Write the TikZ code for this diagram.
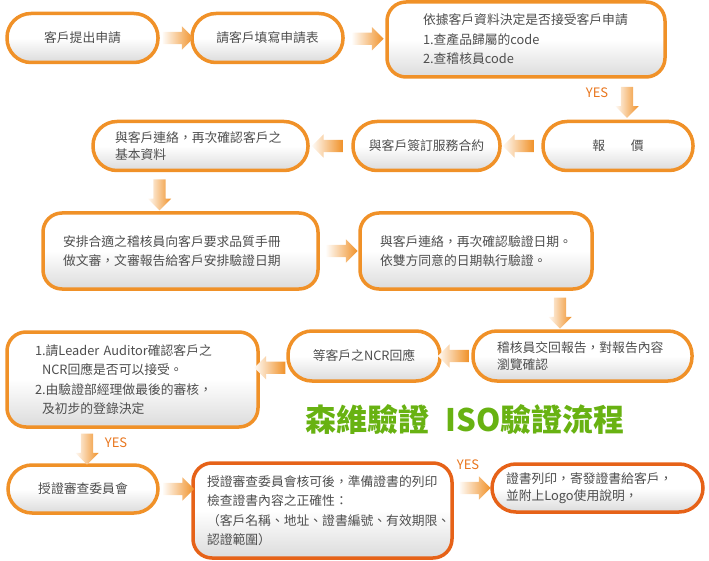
\documentclass[tikz,border=0pt]{standalone}
\usepackage{fontspec}
\setmainfont{Noto Sans CJK TC}
\usepackage{tikz}
\usetikzlibrary {shapes.arrows}
\usetikzlibrary {positioning}

\definecolor{boxorange}{RGB}{240,145,40}
\definecolor{boxred}{RGB}{230,98,24}
\definecolor{txtgray}{RGB}{78,78,78}
\definecolor{titlegreen}{RGB}{104,178,18}
\definecolor{yesorange}{RGB}{232,118,30}

\tikzset{
  stepbox/.style={rectangle, draw=boxorange, line width=3.5pt, rounded corners=19pt,
    top color=white, bottom color=black!14, middle color=white,
    text=txtgray, font=\fontsize{12.8}{19.5}\selectfont, inner ysep=0pt, align=left},
  pill/.style={stepbox, rounded corners=24pt, minimum height=49pt, align=center},
  twoline/.style={font=\fontsize{12.8}{17.5}\selectfont},
  flowarrow/.style={single arrow, draw=none, minimum height=31pt, inner sep=6pt,
    single arrow head extend=5.5pt,
    left color=boxorange!4, right color=boxorange},
  yes/.style={text=yesorange, font=\fontsize{13}{13}\selectfont},
  title/.style={text=titlegreen, font=\fontsize{31}{31}\selectfont\bfseries}
}

\begin{document}
\begin{tikzpicture}[x=1pt,y=-1pt]
\useasboundingbox (0,0) rectangle (709,561);

%first row
\node [pill, minimum width=151pt] (apply) at (82.5,38) {客戶提出申請};
\node [pill, minimum width=151pt] (form) at (267.5,38) {請客戶填寫申請表};
\node [stepbox, minimum height=75pt, text width=206pt, inner xsep=36pt] (decide) at (526,39.5)
  {依據客戶資料決定是否接受客戶申請\\1.查產品歸屬的code\\2.查稽核員code};
\path (apply.east) -- node [flowarrow] {} (form.west);
\path (form.east) -- node [flowarrow] {} (decide.west);

%second row
\node [pill, minimum width=150pt] (quote) at (618,146) {報　　價};
\node [pill, minimum width=147pt] (contract) at (426.5,146) {與客戶簽訂服務合約};
\node [pill, twoline, align=left, text width=171pt, inner xsep=22pt] (contact) at (200.5,146)
  {與客戶連絡，再次確認客戶之\\基本資料};
\path ([xshift=101pt]decide.south) -- node [flowarrow, rotate=-90] {} ([xshift=9pt]quote.north);
\node [yes] (yes1) at (597,93) {YES};
\path (quote.west) -- node [flowarrow, rotate=180] {} (contract.east);
\path (contract.west) -- node [flowarrow, rotate=180] {} (contact.east);

%third row
\node [stepbox, minimum height=76pt, text width=235pt, inner xsep=20pt] (audit) at (180.5,251)
  {安排合適之稽核員向客戶要求品質手冊\\做文審，文審報告給客戶安排驗證日期};
\node [stepbox, minimum height=76pt, text width=192pt, inner xsep=20pt] (date) at (476,251)
  {與客戶連絡，再次確認驗證日期。\\依雙方同意的日期執行驗證。};
\path ([xshift=-41pt]contact.south) -- node [flowarrow, rotate=-90] {} ([xshift=-21pt]audit.north);
\path (audit.east) -- node [flowarrow] {} (date.west);

%fourth row
\node [pill, twoline, align=left, text width=171pt, inner xsep=24pt, minimum height=50pt] (report) at (582.5,356)
  {稽核員交回報告，對報告內容\\瀏覽確認};
\node [pill, minimum width=152pt, minimum height=50pt] (ncr) at (364,356) {等客戶之NCR回應};
\node [stepbox, minimum height=95pt, text width=195pt, inner xsep=28pt] (leader) at (132.5,379.5)
  {1.請Leader Auditor確認客戶之\\\hspace*{7pt}NCR回應是否可以接受。\\2.由驗證部經理做最後的審核，\\\hspace*{7pt}及初步的登錄決定};
\path ([xshift=84pt]date.south) -- node [flowarrow, rotate=-90] {} ([xshift=-22.5pt]report.north);
\path (report.west) -- node [flowarrow, rotate=180] {} (ncr.east);
\path (ncr.west) -- node [flowarrow, rotate=180] {} (leader.east);

\node [title] (title) at (465,420) {森維驗證\hspace{16pt}ISO驗證流程};

%last row
\node [pill, minimum width=150pt, minimum height=48pt] (board) at (83,489) {授證審查委員會};
\node [stepbox, draw=boxred, minimum height=95pt, text width=231pt, inner xsep=14pt] (certify) at (322.5,510.5)
  {授證審查委員會核可後，準備證書的列印\\檢查證書內容之正確性：\\（客戶名稱、地址、證書編號、有效期限、\\認證範圍）};
\node [pill, twoline, draw=boxred, align=left, text width=183pt, inner xsep=14pt, minimum height=48pt] (print) at (597.5,488)
  {證書列印，寄發證書給客戶，\\並附上Logo使用說明，};
\path ([xshift=-45.5pt]leader.south) -- node [flowarrow, rotate=-90] {} ([xshift=4pt]board.north);
\node [yes] (yes2) at (116,443) {YES};
\path (board.east) -- node [flowarrow] {} (board.east -| certify.west);
\path (print.west -| certify.east) -- node [flowarrow] {} (print.west);
\node [yes] (yes3) at (468,465) {YES};

\end{tikzpicture}
\end{document}
